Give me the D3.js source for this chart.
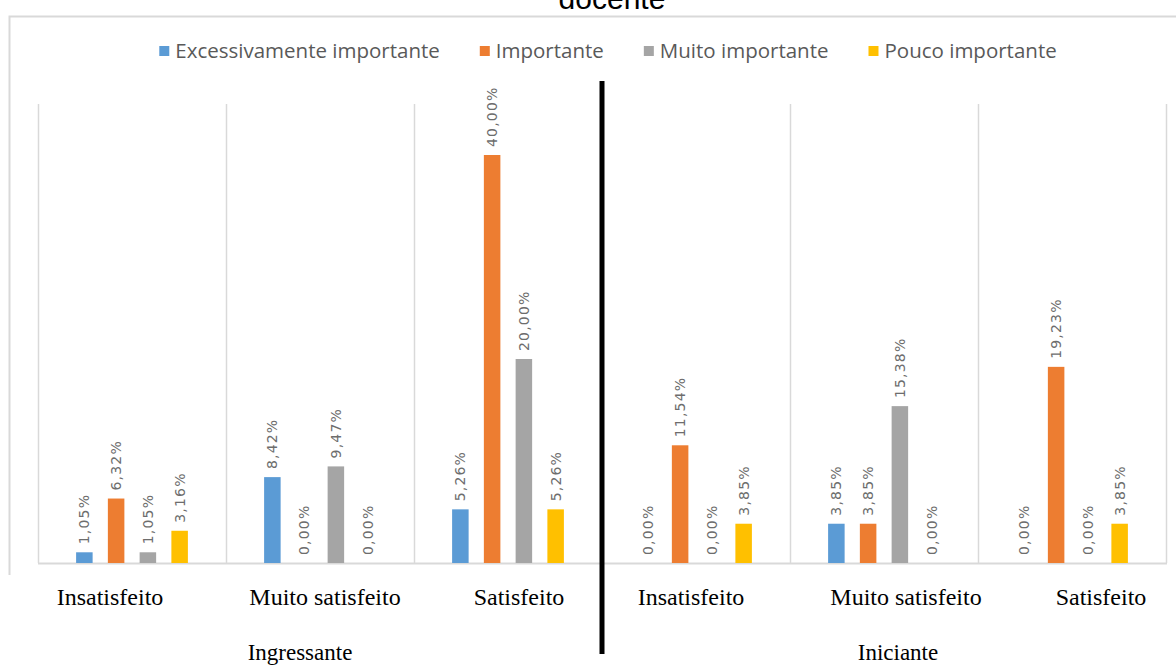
<!DOCTYPE html>
<html>
<head>
<meta charset="utf-8">
<script src="https://cdn.jsdelivr.net/npm/d3@7"></script>
<style>
  html, body { margin: 0; padding: 0; background: #fff; }
  svg { display: block; }
</style>
</head>
<body>
<div id="chart"></div>
<script>
// categories (x axis) and the two groups underneath
var categories = ["Insatisfeito", "Muito satisfeito", "Satisfeito"];
var groups = ["Ingressante", "Iniciante"];
var seriesNames = ["Excessivamente importante", "Importante", "Muito importante", "Pouco importante"];

// values in %, order: Ingressante (3 cats) then Iniciante (3 cats)
var excessivamente = [1.05, 8.42, 5.26, 0.00, 3.85, 0.00];
var importante = [6.32, 0.00, 40.00, 11.54, 3.85, 19.23];
var muitoImportante = [1.05, 9.47, 20.00, 0.00, 15.38, 0.00];
var poucoImportante = [3.16, 0.00, 5.26, 3.85, 0.00, 3.85];

var colors = ["#5B9BD5", "#ED7D31", "#A5A5A5", "#FFC000"];

// small hand nudges for the pasted-in axis labels
var catNudge = [-22, 5, 11, -5, 22, 29];
var groupNudge = [-20, 14];

var W = 1176, H = 666;
var svg = d3.select("#chart").append("svg")
    .attr("width", W)
    .attr("height", H);

var allValues = [excessivamente, importante, muitoImportante, poucoImportante];

var slots = [];
groups.forEach(function (g, gi) {
    categories.forEach(function (c, ci) {
        slots.push({ id: gi + "-" + ci, group: g, cat: c, idx: gi * categories.length + ci });
    });
});

var x0 = d3.scaleBand()
    .domain(slots.map(function (d) { return d.id; }))
    .range([38, 1166])
    .padding(0);

var x1 = d3.scaleBand()
    .domain(seriesNames)
    .range([0, x0.bandwidth()])
    .paddingInner(0.48)
    .paddingOuter(1.2);

var y = d3.scaleLinear()
    .domain([0, 45])
    .range([563, 104]);

var fmt = function (v) { return d3.format(".2f")(v).replace(".", ",") + "%"; };

// outer chart border (top + left only visible)
svg.append("path")
    .attr("d", "M9.5,575 V16.5 H1176")
    .attr("fill", "none")
    .attr("stroke", "#d9d9d9")
    .attr("stroke-width", 2);

// title (second line, cut at top like the source)
svg.append("text")
    .attr("x", 612)
    .attr("y", 9)
    .attr("text-anchor", "middle")
    .style("font-family", "Liberation Sans, Arial, sans-serif")
    .style("font-size", "30px")
    .style("fill", "#000")
    .text("docente");

// vertical separators between categories
var bounds = slots.map(function (d) { return x0(d.id); }).concat([x0.range()[1]]);
svg.append("g").selectAll("line")
    .data(bounds)
    .enter().append("line")
    .attr("x1", function (d) { return d + 0.5; })
    .attr("x2", function (d) { return d + 0.5; })
    .attr("y1", y.range()[1])
    .attr("y2", y(0))
    .attr("stroke", "#d9d9d9")
    .attr("stroke-width", 1.5);

// baseline
svg.append("line")
    .attr("x1", x0.range()[0])
    .attr("x2", x0.range()[1] + 1)
    .attr("y1", y(0) + 0.5)
    .attr("y2", y(0) + 0.5)
    .attr("stroke", "#d9d9d9")
    .attr("stroke-width", 2);

// bars
var slotG = svg.append("g").selectAll("g.slot")
    .data(slots)
    .enter().append("g")
    .attr("class", "slot")
    .attr("transform", function (d) { return "translate(" + x0(d.id) + ",0)"; });

var barData = function (d) {
    return seriesNames.map(function (s, si) {
        return { series: s, si: si, value: allValues[si][d.idx] };
    });
};

slotG.selectAll("rect")
    .data(barData)
    .enter().append("rect")
    .attr("x", function (d) { return x1(d.series); })
    .attr("y", function (d) { return y(d.value); })
    .attr("width", x1.bandwidth())
    .attr("height", function (d) { return y(0) - y(d.value); })
    .attr("fill", function (d) { return colors[d.si]; });

// rotated value labels
slotG.selectAll("text.val")
    .data(barData)
    .enter().append("text")
    .attr("class", "val")
    .attr("transform", function (d) {
        var cx = x1(d.series) + x1.bandwidth() / 2 + 5;
        return "translate(" + cx + "," + (y(d.value) - 8) + ") rotate(-90)";
    })
    .attr("text-anchor", "start")
    .style("font-family", "DejaVu Sans, sans-serif")
    .style("font-size", "14px")
    .style("letter-spacing", "1.2px")
    .style("fill", "#6d6d6d")
    .text(function (d) { return fmt(d.value); });

// category labels
svg.append("g").selectAll("text")
    .data(slots)
    .enter().append("text")
    .attr("x", function (d, i) { return x0(d.id) + x0.bandwidth() / 2 + catNudge[i]; })
    .attr("y", 605)
    .attr("text-anchor", "middle")
    .style("font-family", "Liberation Serif, Times New Roman, serif")
    .style("font-size", "24px")
    .style("fill", "#000")
    .text(function (d) { return d.cat; });

// group labels
svg.append("g").selectAll("text")
    .data(groups)
    .enter().append("text")
    .attr("x", function (g, gi) {
        var a = x0(gi + "-0"), b = x0(gi + "-" + (categories.length - 1)) + x0.bandwidth();
        return (a + b) / 2 + groupNudge[gi];
    })
    .attr("y", 660)
    .attr("text-anchor", "middle")
    .style("font-family", "Liberation Serif, Times New Roman, serif")
    .style("font-size", "23px")
    .style("fill", "#000")
    .text(function (g) { return g; });

// thick divider between Ingressante and Iniciante
var divX = x0(groups.length - 1 + "-0");
svg.append("line")
    .attr("x1", divX)
    .attr("x2", divX)
    .attr("y1", 81)
    .attr("y2", 654)
    .attr("stroke", "#000")
    .attr("stroke-width", 5);

// legend
var legend = svg.append("g").attr("class", "legend");
var items = legend.selectAll("g")
    .data(seriesNames)
    .enter().append("g");

items.append("rect")
    .attr("width", 10)
    .attr("height", 10)
    .attr("y", 46)
    .attr("fill", function (d, i) { return colors[i]; });

items.append("text")
    .attr("x", 16)
    .attr("y", 58)
    .style("font-family", "Open Sans, sans-serif")
    .style("font-size", "20.5px")
    .style("fill", "#595959")
    .text(function (d) { return d; });

var pos = 0, gap = 40;
items.each(function () {
    var w = this.getBBox().width;
    d3.select(this).attr("data-x", pos);
    pos += w + gap;
});
var total = pos - gap;
var startX = 608 - total / 2;
items.attr("transform", function () {
    return "translate(" + (startX + (+d3.select(this).attr("data-x"))) + ",0)";
});
</script>
</body>
</html>
